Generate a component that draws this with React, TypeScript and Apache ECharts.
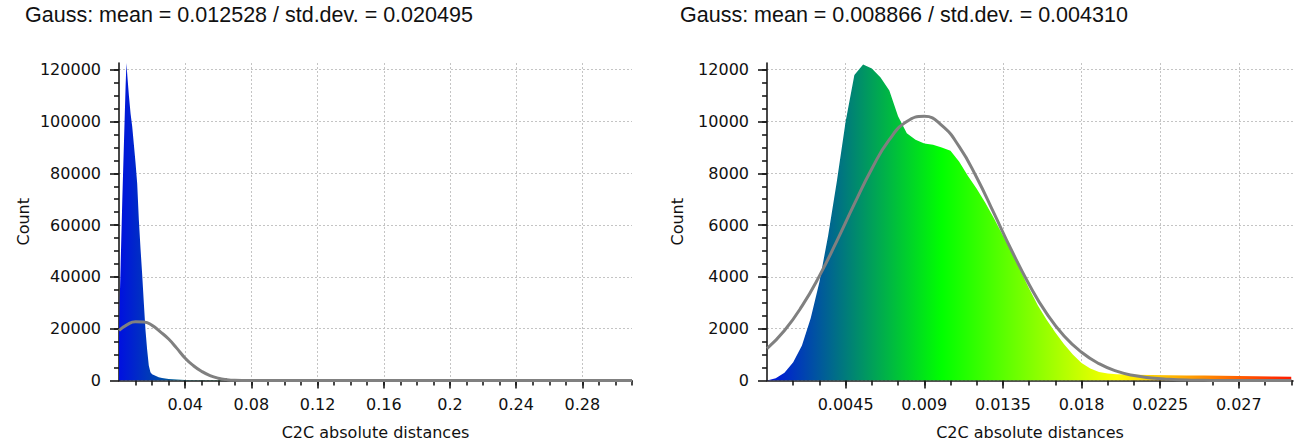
import React, { useEffect, useRef } from 'react';
import * as echarts from 'echarts';

const LEFT_TITLE = 'Gauss: mean = 0.012528 / std.dev. = 0.020495';
const RIGHT_TITLE = 'Gauss: mean = 0.008866 / std.dev. = 0.004310';
const X_NAME = 'C2C absolute distances';
const Y_NAME = 'Count';

// Left histogram (distance, count)
const LEFT_HIST_X = [0, 0.001, 0.002, 0.003, 0.004, 0.0045, 0.005, 0.006, 0.007, 0.008, 0.009, 0.01, 0.011, 0.012, 0.013, 0.014, 0.015, 0.016, 0.017, 0.018, 0.019, 0.02, 0.022, 0.024, 0.026, 0.028, 0.03, 0.035, 0.04, 0.05, 0.06, 0.07, 0.31];
const LEFT_HIST_Y = [20000, 45000, 70000, 92000, 114000, 122600, 118000, 110000, 103000, 98000, 91000, 84000, 76000, 62000, 51000, 41000, 30000, 19500, 12000, 5800, 3200, 2400, 1800, 1300, 1000, 800, 600, 350, 200, 100, 50, 20, 0];
// Left Gauss curve
const LEFT_GAUSS_X = [0, 0.005, 0.01, 0.015, 0.02, 0.025, 0.03, 0.035, 0.04, 0.045, 0.05, 0.055, 0.06, 0.065, 0.07, 0.08, 0.09, 0.31];
const LEFT_GAUSS_Y = [19300, 21600, 22700, 22600, 21300, 18800, 16000, 12400, 8600, 5700, 3500, 1900, 900, 350, 100, 10, 0, 0];

// Right histogram
const RIGHT_HIST_X = [0, 0.0005, 0.001, 0.0015, 0.002, 0.0025, 0.003, 0.0035, 0.004, 0.0045, 0.005, 0.0055, 0.006, 0.0065, 0.007, 0.0075, 0.008, 0.0085, 0.009, 0.0095, 0.01, 0.0105, 0.011, 0.0115, 0.012, 0.0125, 0.013, 0.0135, 0.014, 0.0145, 0.015, 0.0155, 0.016, 0.0165, 0.017, 0.0175, 0.018, 0.0185, 0.019, 0.0195, 0.02, 0.021, 0.022, 0.023, 0.024, 0.025, 0.026, 0.027, 0.028, 0.029, 0.03];
const RIGHT_HIST_Y = [0, 90, 300, 700, 1350, 2400, 3800, 5600, 7700, 10000, 11800, 12200, 12050, 11700, 11200, 10200, 9550, 9300, 9150, 9100, 9000, 8870, 8450, 7900, 7400, 6850, 6250, 5600, 4950, 4250, 3550, 2900, 2350, 1850, 1400, 1000, 680, 460, 330, 270, 240, 220, 210, 200, 195, 190, 180, 170, 160, 150, 140];
// Right Gauss curve
const RIGHT_GAUSS_X = [0, 0.001, 0.002, 0.003, 0.004, 0.005, 0.006, 0.007, 0.008, 0.009, 0.01, 0.011, 0.012, 0.013, 0.014, 0.015, 0.016, 0.017, 0.018, 0.019, 0.02, 0.021, 0.022, 0.023, 0.024, 0.025, 0.026, 0.03];
const RIGHT_GAUSS_Y = [1230, 1930, 2870, 4040, 5390, 6820, 8180, 9300, 10000, 10200, 9850, 9030, 7840, 6440, 5020, 3710, 2590, 1720, 1090, 650, 360, 190, 100, 50, 20, 10, 0, 0];

// Axis extents and ticks
const LEFT_X_MAX = 0.31;
const LEFT_Y_MAX = 122600;
const RIGHT_X_MAX = 0.0301;
const RIGHT_Y_MAX = 12260;

const LEFT_X_MAJOR = [0.04, 0.08, 0.12, 0.16, 0.2, 0.24, 0.28];
const LEFT_X_MINOR = [0.01, 0.02, 0.03, 0.04, 0.05, 0.06, 0.07, 0.08, 0.09, 0.1, 0.11, 0.12, 0.13, 0.14, 0.15, 0.16, 0.17, 0.18, 0.19, 0.2, 0.21, 0.22, 0.23, 0.24, 0.25, 0.26, 0.27, 0.28, 0.29, 0.3, 0.31];
const LEFT_Y_MAJOR = [0, 20000, 40000, 60000, 80000, 100000, 120000];
const LEFT_Y_MINOR = [5000, 10000, 15000, 20000, 25000, 30000, 35000, 40000, 45000, 50000, 55000, 60000, 65000, 70000, 75000, 80000, 85000, 90000, 95000, 100000, 105000, 110000, 115000, 120000];
const RIGHT_X_MAJOR = [0.0045, 0.009, 0.0135, 0.018, 0.0225, 0.027];
const RIGHT_X_MINOR = [0.0015, 0.003, 0.0045, 0.006, 0.0075, 0.009, 0.0105, 0.012, 0.0135, 0.015, 0.0165, 0.018, 0.0195, 0.021, 0.0225, 0.024, 0.0255, 0.027, 0.0285, 0.03];
const RIGHT_Y_MAJOR = [0, 2000, 4000, 6000, 8000, 10000, 12000];
const RIGHT_Y_MINOR = [500, 1000, 1500, 2000, 2500, 3000, 3500, 4000, 4500, 5000, 5500, 6000, 6500, 7000, 7500, 8000, 8500, 9000, 9500, 10000, 10500, 11000, 11500, 12000];

const AXIS_COLOR = '#1a1a1a';
const TICK_FONT = 'DejaVu Sans';

function zip(xs: number[], ys: number[]) {
  return xs.map((x, i) => [x, ys[i]]);
}

function xAxes(gridIndex: number, max: number, major: number[], minor: number[]) {
  return [
    {
      gridIndex, type: 'value', min: 0, max, position: 'bottom',
      name: X_NAME, nameLocation: 'middle', nameGap: 44,
      nameTextStyle: { fontFamily: TICK_FONT, fontSize: 16, color: '#111' },
      axisLine: { show: true, onZero: false, lineStyle: { color: AXIS_COLOR, width: 1.6 } },
      axisTick: { show: true, customValues: major, length: 8, lineStyle: { color: AXIS_COLOR, width: 1.6 } },
      axisLabel: { show: true, customValues: major, margin: 16, fontFamily: TICK_FONT, fontSize: 16, color: '#111', formatter: (v: number) => String(v) },
      splitLine: { show: true, lineStyle: { color: '#c4c4c4', width: 1, type: [2, 2] } },
    },
    {
      gridIndex, type: 'value', min: 0, max, position: 'bottom',
      axisLine: { show: false },
      axisTick: { show: true, customValues: minor, length: 5, lineStyle: { color: AXIS_COLOR, width: 1.6 } },
      axisLabel: { show: false },
      splitLine: { show: false },
    },
  ];
}

function yAxes(gridIndex: number, max: number, major: number[], minor: number[], nameGap: number) {
  return [
    {
      gridIndex, type: 'value', min: 0, max, position: 'left',
      name: Y_NAME, nameLocation: 'middle', nameRotate: 90, nameGap,
      nameTextStyle: { fontFamily: TICK_FONT, fontSize: 16, color: '#111' },
      axisLine: { show: true, onZero: false, lineStyle: { color: AXIS_COLOR, width: 1.6 } },
      axisTick: { show: true, customValues: major, length: 9, lineStyle: { color: AXIS_COLOR, width: 1.6 } },
      axisLabel: { show: true, customValues: major, margin: 18, fontFamily: TICK_FONT, fontSize: 16, color: '#111', formatter: (v: number) => String(v) },
      splitLine: { show: true, lineStyle: { color: '#c4c4c4', width: 1, type: [2, 2] } },
    },
    {
      gridIndex, type: 'value', min: 0, max, position: 'left',
      axisLine: { show: false },
      axisTick: { show: true, customValues: minor, length: 5, lineStyle: { color: AXIS_COLOR, width: 1.6 } },
      axisLabel: { show: false },
      splitLine: { show: false },
    },
  ];
}

function colorScale() {
  return new echarts.graphic.LinearGradient(0, 0, 1, 0, [
    { offset: 0, color: '#0010e0' },
    { offset: 0.333, color: '#00ff00' },
    { offset: 0.667, color: '#ffff00' },
    { offset: 1, color: '#ff1a00' },
  ]);
}

export default function App() {
  const ref = useRef<HTMLDivElement>(null);
  useEffect(() => {
    if (!ref.current) return;
    const chart = echarts.init(ref.current, null, { renderer: 'svg' });
    const titleStyle = { fontFamily: 'Liberation Sans', fontSize: 21.5, fontWeight: 'normal' as const, color: '#111' };
    chart.setOption({
      animation: false,
      backgroundColor: '#ffffff',
      title: [
        { text: LEFT_TITLE, left: 25, top: 3.5, padding: 0, textStyle: titleStyle },
        { text: RIGHT_TITLE, left: 680, top: 3.5, padding: 0, textStyle: titleStyle },
      ],
      grid: [
        { left: 119, top: 63, width: 513, height: 317.5, containLabel: false },
        { left: 767, top: 63, width: 526, height: 317.5, containLabel: false },
      ],
      xAxis: [
        ...xAxes(0, LEFT_X_MAX, LEFT_X_MAJOR, LEFT_X_MINOR),
        ...xAxes(1, RIGHT_X_MAX, RIGHT_X_MAJOR, RIGHT_X_MINOR),
      ],
      yAxis: [
        ...yAxes(0, LEFT_Y_MAX, LEFT_Y_MAJOR, LEFT_Y_MINOR, 88),
        ...yAxes(1, RIGHT_Y_MAX, RIGHT_Y_MAJOR, RIGHT_Y_MINOR, 82),
      ],
      series: [
        {
          type: 'line', xAxisIndex: 0, yAxisIndex: 0, data: zip(LEFT_HIST_X, LEFT_HIST_Y),
          showSymbol: false, symbol: 'none', lineStyle: { width: 0 },
          areaStyle: { color: colorScale(), opacity: 1 }, z: 2,
        },
        {
          type: 'line', xAxisIndex: 0, yAxisIndex: 0, data: zip(LEFT_GAUSS_X, LEFT_GAUSS_Y),
          smooth: true, showSymbol: false, symbol: 'none',
          lineStyle: { color: '#808080', width: 3 }, z: 3,
        },
        {
          type: 'line', xAxisIndex: 2, yAxisIndex: 2, data: zip(RIGHT_HIST_X, RIGHT_HIST_Y),
          showSymbol: false, symbol: 'none', lineStyle: { width: 0 },
          areaStyle: { color: colorScale(), opacity: 1 }, z: 2,
        },
        {
          type: 'line', xAxisIndex: 2, yAxisIndex: 2, data: zip(RIGHT_GAUSS_X, RIGHT_GAUSS_Y),
          smooth: true, showSymbol: false, symbol: 'none',
          lineStyle: { color: '#808080', width: 3 }, z: 3,
        },
      ],
    });
    return () => chart.dispose();
  }, []);
  return <div ref={ref} style={{ position: 'fixed', left: 0, top: 0, width: 1300, height: 446 }} />;
}
